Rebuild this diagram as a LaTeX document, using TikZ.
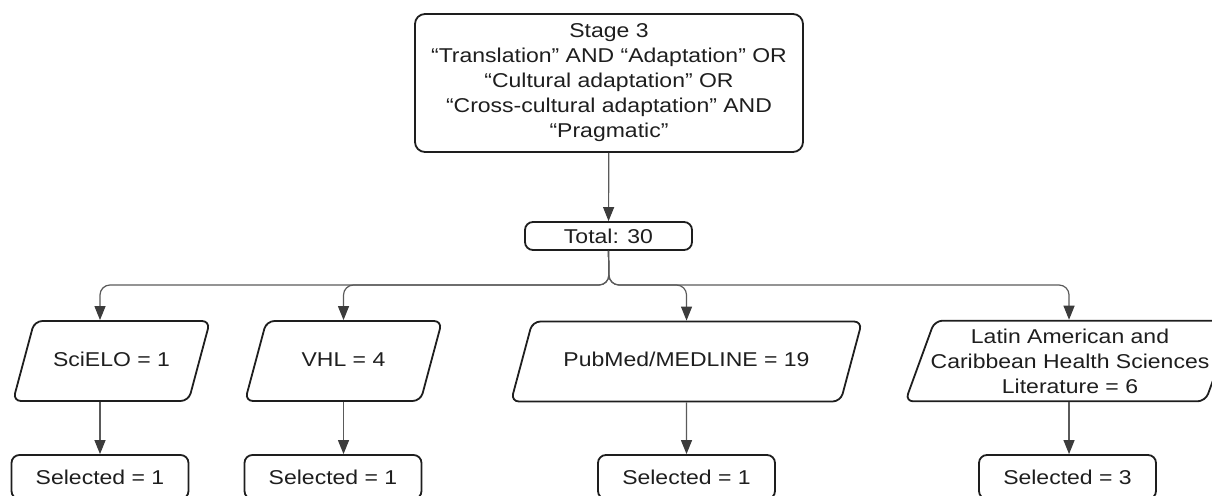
\documentclass[tikz,border=0pt]{standalone}
\usepackage{fontspec}
\setmainfont{Liberation Sans}[FakeStretch=1.15]
\usetikzlibrary{arrows.meta,shapes.geometric}
\definecolor{ink}{HTML}{1E1E1E}
\definecolor{wire}{HTML}{5A5A5A}
\definecolor{tipgray}{HTML}{3C3C3C}

\begin{document}
\begin{tikzpicture}[x=1pt,y=-1pt,
  every node/.style={font=\fontsize{20}{25}\selectfont, text=ink},
  box/.style={draw=ink, line width=1.8pt, rounded corners=8pt, align=center},
  source/.style={box, trapezium, trapezium left angle=75, trapezium right angle=105,
    trapezium stretches body, text height=15pt, text depth=5pt, inner ysep=30pt},
  picked/.style={box, minimum width=177pt, minimum height=44pt},
  link/.style={draw=wire, line width=1.2pt, rounded corners=10pt,
    -{Triangle[length=14pt,width=11pt,color=tipgray]}}]
  \useasboundingbox (0,0) rectangle (1212,495);
  % Search string and total
  \node[box, minimum width=388pt, minimum height=138pt, rounded corners=10pt] (stage) at (609,83)
    {Stage 3\\“Translation” AND “Adaptation” OR\\“Cultural adaptation” OR\\“Cross-cultural adaptation” AND\\“Pragmatic”};
  \node[box, minimum width=167pt, minimum height=28pt, inner ysep=0pt] (total) at (608.5,236) {Total: 30};
  \coordinate (fork) at (609,285);
  % Databases
  \node[source, minimum width=197pt] (scielo) at (111.5,361) {SciELO = 1};
  \node[source, minimum width=197pt] (vhl) at (343.5,361) {VHL = 4};
  \node[source, minimum width=351pt] (pubmed) at (686.5,361.5) {PubMed/MEDLINE = 19};
  \node[source, text height=, text depth=, inner ysep=8pt, inner xsep=-4pt, minimum width=323pt,
    trapezium left angle=70, trapezium right angle=110] (lilacs) at (1070,361)
    {Latin American and\\Caribbean Health Sciences\\Literature = 6};
  % Selected studies
  \node[picked] (selscielo) at (100,477) {Selected = 1};
  \node[picked] (selvhl) at (333,477) {Selected = 1};
  \node[picked] (selpubmed) at (686.5,477) {Selected = 1};
  \node[picked] (sellilacs) at (1067.5,477) {Selected = 3};
  % Connectors
  \draw[link] (stage) -- (total);
  \draw[link] (total.south) -- (fork) -| (selscielo.north |- scielo.north);
  \draw[link] (total.south) -- (fork) -| (vhl.north);
  \draw[link] (total.south) -- (fork) -| (pubmed.north);
  \draw[link] (total.south) -- (fork) -| ([xshift=-1pt]lilacs.north);
  \draw[link] (selscielo.north |- scielo.south) -- (selscielo.north);
  \draw[link] (vhl.south) -- (vhl.south |- selvhl.north);
  \draw[link] (pubmed.south) -- (selpubmed.north);
  \draw[link] ([xshift=-1pt]lilacs.south) -- ([xshift=-1pt]lilacs.south |- sellilacs.north);
\end{tikzpicture}
\end{document}
